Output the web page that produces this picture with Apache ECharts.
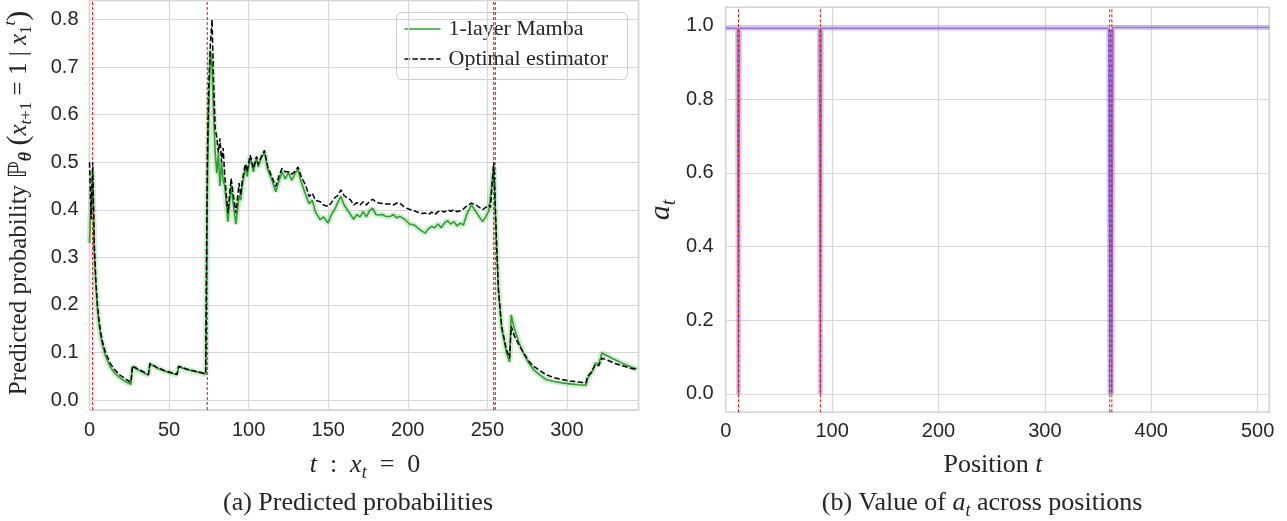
<!DOCTYPE html>
<html>
<head>
<meta charset="utf-8">
<script src="https://cdn.jsdelivr.net/npm/echarts@6/dist/echarts.min.js"></script>
<style>
html,body{margin:0;padding:0;background:#fff;}
#chart{width:1287px;height:521px;}
</style>
</head>
<body>
<div id="chart"></div>
<script>
// ---------- (a) Predicted probabilities ----------
const tIdx = [
  0, 1, 2, 3, 4, 5, 6, 7, 8, 10,
  13, 16, 19, 22, 26, 27, 30, 34, 37, 38,
  42, 47, 51, 55, 56, 61, 66, 70, 73, 74,
  75, 76, 77, 78, 79, 80, 81, 82, 83, 84,
  85, 87, 89, 90, 92, 94, 95, 96, 98, 99,
  101, 103, 105, 106, 108, 110, 112, 115, 117, 119,
  121, 123, 125, 127, 129, 131, 133, 136, 138, 140,
  142, 145, 147, 150, 152, 154, 156, 158, 160, 162,
  164, 166, 168, 170, 172, 174, 176, 178, 180, 182,
  184, 186, 189, 191, 193, 195, 198, 201, 204, 207,
  209, 211, 213, 215, 217, 219, 221, 223, 225, 227,
  229, 231, 233, 235, 237, 240, 243, 245, 247, 249,
  251, 252, 254, 256, 257, 259, 262, 264, 265, 267,
  270, 273, 276, 279, 283, 287, 292, 297, 302, 307,
  312, 313, 315, 316, 318, 320, 322, 326, 330, 335,
  340, 344
];
const optimalVals = [
  0.50, 0.38, 0.50, 0.33, 0.25, 0.20, 0.167, 0.143, 0.125, 0.100,
  0.077, 0.063, 0.053, 0.046, 0.037, 0.072, 0.066, 0.059, 0.054, 0.077,
  0.069, 0.062, 0.058, 0.054, 0.071, 0.065, 0.061, 0.058, 0.055, 0.50,
  0.667, 0.75, 0.80, 0.667, 0.57, 0.553, 0.52, 0.55, 0.50, 0.53,
  0.47, 0.393, 0.466, 0.44, 0.393, 0.456, 0.43, 0.46, 0.497, 0.48,
  0.515, 0.487, 0.512, 0.495, 0.512, 0.525, 0.49, 0.466, 0.449, 0.47,
  0.487, 0.48, 0.48, 0.475, 0.48, 0.49, 0.47, 0.45, 0.428, 0.435,
  0.42, 0.417, 0.41, 0.407, 0.415, 0.425, 0.43, 0.442, 0.43, 0.425,
  0.421, 0.41, 0.415, 0.41, 0.417, 0.41, 0.418, 0.422, 0.416, 0.414,
  0.413, 0.412, 0.412, 0.41, 0.414, 0.414, 0.405, 0.401, 0.398, 0.394,
  0.392, 0.393, 0.39, 0.395, 0.39, 0.396, 0.398, 0.395, 0.40, 0.397,
  0.40, 0.396, 0.398, 0.402, 0.408, 0.414, 0.41, 0.405, 0.40, 0.405,
  0.41, 0.405, 0.50, 0.315, 0.231, 0.155, 0.106, 0.088, 0.155, 0.135,
  0.115, 0.098, 0.082, 0.071, 0.062, 0.053, 0.047, 0.043, 0.040, 0.038,
  0.036, 0.050, 0.057, 0.060, 0.075, 0.072, 0.088, 0.083, 0.077, 0.072,
  0.067, 0.064
];
const mambaVals = [
  0.33, 0.42, 0.48, 0.31, 0.24, 0.19, 0.158, 0.135, 0.117, 0.093,
  0.070, 0.056, 0.047, 0.040, 0.033, 0.070, 0.064, 0.057, 0.052, 0.076,
  0.068, 0.061, 0.057, 0.053, 0.070, 0.064, 0.060, 0.057, 0.054, 0.42,
  0.62, 0.735, 0.70, 0.60, 0.52, 0.477, 0.52, 0.45, 0.50, 0.46,
  0.45, 0.375, 0.452, 0.42, 0.37, 0.43, 0.42, 0.45, 0.49, 0.47,
  0.51, 0.48, 0.51, 0.49, 0.51, 0.52, 0.485, 0.459, 0.438, 0.46,
  0.48, 0.465, 0.478, 0.462, 0.475, 0.485, 0.459, 0.43, 0.413, 0.42,
  0.395, 0.379, 0.385, 0.372, 0.39, 0.40, 0.415, 0.428, 0.41, 0.40,
  0.39, 0.38, 0.39, 0.385, 0.396, 0.385, 0.398, 0.403, 0.39, 0.389,
  0.39, 0.386, 0.386, 0.39, 0.383, 0.386, 0.38, 0.37, 0.368, 0.36,
  0.355, 0.351, 0.36, 0.365, 0.362, 0.37, 0.362, 0.372, 0.377, 0.37,
  0.375, 0.366, 0.372, 0.368, 0.39, 0.41, 0.395, 0.385, 0.375, 0.385,
  0.398, 0.40, 0.49, 0.31, 0.23, 0.15, 0.10, 0.08, 0.179, 0.15,
  0.12, 0.096, 0.078, 0.064, 0.053, 0.043, 0.039, 0.036, 0.034, 0.032,
  0.031, 0.045, 0.055, 0.060, 0.078, 0.075, 0.099, 0.092, 0.085, 0.077,
  0.070, 0.065
];
const changeIdxLeft = [2, 74, 254, 255];
const legendNames = ['1-layer Mamba', 'Optimal estimator'];

// ---------- (b) Value of a_t across positions ----------
const positions = [0, 11, 12, 13, 88, 89, 90, 360, 361, 362, 363, 364, 511];
const aVals = [0.993, 0.993, 0.0, 0.993, 0.993, 0.0, 0.993, 0.993, 0.0, 0.99, 0.0, 0.995, 0.995];
const changePosRight = [12, 89, 361, 363];

// ---------- axis ranges ----------
const yRangeA = [-0.021, 0.84];
const yRangeB = [-0.05, 1.05];

// ---------- build ----------
const pairs = (xs, ys) => xs.map((x, i) => [x, ys[i]]);
const mambaData = pairs(tIdx, mambaVals);
const optData = pairs(tIdx, optimalVals);
const aData = pairs(positions, aVals);
// vertical segments spanning the whole y range, separated by gaps
const vlines = (xs, range) => {
  const out = [];
  xs.forEach(x => { out.push([x, range[0]], [x, range[1]], [x, null]); });
  return out;
};

const GRID = '#d6d6d6';
const TXT = '#262626';
const SERIF = '"Liberation Serif", "DejaVu Serif", serif';
const SANS = '"Liberation Sans", Arial, sans-serif';

const fmt = (step, dec) => (v) => {
  const k = v / step;
  return Math.abs(k - Math.round(k)) < 1e-6 ? v.toFixed(dec) : '';
};

const axisCommon = {
  type: 'value',
  axisLine: {show: false},
  axisTick: {show: false},
  splitLine: {show: true, lineStyle: {color: GRID, width: 1.2}}
};

const mathRich = (size) => {
  const s = Math.round(size * 0.68);
  return {
    it: {fontFamily: SERIF, fontStyle: 'italic', fontSize: size, verticalAlign: 'middle', lineHeight: size + 8, fill: TXT},
    n: {fontFamily: SERIF, fontSize: size, verticalAlign: 'middle', lineHeight: size + 8, fill: TXT},
    sub: {fontFamily: SERIF, fontStyle: 'italic', fontSize: s, verticalAlign: 'bottom', lineHeight: s, fill: TXT},
    subn: {fontFamily: SERIF, fontSize: s, verticalAlign: 'bottom', lineHeight: s, fill: TXT},
    sup: {fontFamily: SERIF, fontStyle: 'italic', fontSize: s, verticalAlign: 'top', lineHeight: s, fill: TXT},
    bb: {fontFamily: '"DejaVu Sans", sans-serif', fontSize: size, verticalAlign: 'middle', lineHeight: size + 8, fill: TXT},
    th: {fontFamily: SERIF, fontStyle: 'italic', fontWeight: 'bold', fontSize: Math.round(size * 0.72), verticalAlign: 'bottom', lineHeight: Math.round(size * 0.72), fill: TXT},
    par: {fontFamily: SERIF, fontSize: size + 5, verticalAlign: 'middle', lineHeight: size + 8, fill: TXT}
  };
};

const redSeries = (name, xi, xs, range) => ({
  name: name, type: 'line', xAxisIndex: xi, yAxisIndex: xi,
  data: vlines(xs, range), symbol: 'none', silent: true, connectNulls: false,
  itemStyle: {color: '#ff0000'},
  lineStyle: {color: '#ff0000', width: 1, type: [3, 2]},
  z: xi === 0 ? 2 : 5
});

const option = {
  animation: false,
  backgroundColor: '#ffffff',
  textStyle: {fontFamily: SANS},
  grid: [
    {left: 89.5, top: 0.5, width: 549, height: 409.5, show: true, borderColor: '#cccccc', borderWidth: 1.5, backgroundColor: '#ffffff', containLabel: false},
    {left: 725.7, top: 7.3, width: 543.6, height: 405, show: true, borderColor: '#cccccc', borderWidth: 1.5, backgroundColor: '#ffffff', containLabel: false}
  ],
  xAxis: [
    Object.assign({}, axisCommon, {
      gridIndex: 0, min: 0, max: 345, interval: 50,
      axisLabel: {color: TXT, fontSize: 20, fontFamily: SANS, margin: 10, formatter: fmt(50, 0)}
    }),
    Object.assign({}, axisCommon, {
      gridIndex: 1, min: 0, max: 511, interval: 100,
      axisLabel: {color: TXT, fontSize: 20, fontFamily: SANS, margin: 9, formatter: fmt(100, 0)}
    })
  ],
  yAxis: [
    Object.assign({}, axisCommon, {
      gridIndex: 0, min: yRangeA[0], max: yRangeA[1], splitNumber: 8, minInterval: 0.1, maxInterval: 0.1,
      axisLabel: {color: TXT, fontSize: 20, fontFamily: SANS, margin: 11, formatter: fmt(0.1, 1)}
    }),
    Object.assign({}, axisCommon, {
      gridIndex: 1, min: yRangeB[0], max: yRangeB[1], splitNumber: 5, minInterval: 0.2, maxInterval: 0.2,
      axisLabel: {color: TXT, fontSize: 20, fontFamily: SANS, margin: 12, formatter: fmt(0.2, 1)}
    })
  ],
  series: [
    redSeries('change points (a)', 0, changeIdxLeft, yRangeA),
    {
      name: 'band', type: 'line', xAxisIndex: 0, yAxisIndex: 0,
      data: mambaData, symbol: 'none', silent: true,
      lineStyle: {color: '#2ca02c', width: 6, opacity: 0.2}, z: 1
    },
    {
      name: legendNames[0], type: 'line', xAxisIndex: 0, yAxisIndex: 0,
      data: mambaData, symbol: 'none', itemStyle: {color: '#2ca02c'},
      lineStyle: {color: '#2ca02c', width: 1.6}, z: 3
    },
    {
      name: legendNames[1], type: 'line', xAxisIndex: 0, yAxisIndex: 0,
      data: optData, symbol: 'none', itemStyle: {color: '#000000'},
      lineStyle: {color: '#000000', width: 1.5, type: [5.5, 2.4]}, z: 4
    },
    {
      name: 'a band', type: 'line', xAxisIndex: 1, yAxisIndex: 1,
      data: aData, symbol: 'none', silent: true,
      lineStyle: {color: '#9370db', width: 5, opacity: 0.35}, z: 2
    },
    {
      name: 'a_t', type: 'line', xAxisIndex: 1, yAxisIndex: 1,
      data: aData, symbol: 'none', itemStyle: {color: '#9370db'},
      lineStyle: {color: '#9370db', width: 1.6}, z: 3
    },
    redSeries('change points (b)', 1, changePosRight, yRangeB)
  ],
  graphic: [
    {
      type: 'group', left: 396, top: 12, z: 100,
      children: [
        {type: 'rect', shape: {x: 0, y: 0, width: 231, height: 67, r: 5},
         style: {fill: 'rgba(255,255,255,0.85)', stroke: '#cccccc', lineWidth: 1}},
        {type: 'line', shape: {x1: 8, y1: 16.5, x2: 44, y2: 16.5},
         style: {stroke: '#2ca02c', lineWidth: 1.6}},
        {type: 'line', shape: {x1: 8, y1: 46.5, x2: 44, y2: 46.5},
         style: {stroke: '#000000', lineWidth: 1.5, lineDash: [5.5, 2.4]}},
        {type: 'text', x: 52, y: 16.5,
         style: {text: legendNames[0], font: '22px ' + SERIF, fill: TXT, align: 'left', verticalAlign: 'middle'}},
        {type: 'text', x: 52, y: 46.5,
         style: {text: legendNames[1], font: '22px ' + SERIF, fill: TXT, align: 'left', verticalAlign: 'middle'}}
      ]
    },
    {
      type: 'text', x: 19, y: 203, rotation: Math.PI / 2,
      style: {
        text: '{n|Predicted probability }{bb|ℙ}{th|θ}{n| }{par|(}{it|x}{sub|t}{subn|+1}{n| = 1 | }{it|x}{subn|1}{sup|t}{par|)}',
        rich: mathRich(25), align: 'center', verticalAlign: 'middle'
      }
    },
    {
      type: 'text', x: 661, y: 210, rotation: Math.PI / 2,
      style: {text: '{it|a}{sub|t}', rich: mathRich(30), align: 'center', verticalAlign: 'middle'}
    },
    {
      type: 'text', x: 365, y: 465,
      style: {text: '{it|t}{n|\u2002:\u2002}{it|x}{sub|t}{n|\u2002=\u20020}', rich: mathRich(26), align: 'center', verticalAlign: 'middle'}
    },
    {
      type: 'text', x: 993, y: 465,
      style: {text: '{n|Position }{it|t}', rich: mathRich(26), align: 'center', verticalAlign: 'middle'}
    },
    {
      type: 'text', x: 358, y: 503,
      style: {text: '{n|(a) Predicted probabilities}', rich: mathRich(26), align: 'center', verticalAlign: 'middle'}
    },
    {
      type: 'text', x: 982, y: 503,
      style: {text: '{n|(b) Value of }{it|a}{sub|t}{n| across positions}', rich: mathRich(26), align: 'center', verticalAlign: 'middle'}
    }
  ]
};

const chart = echarts.init(document.getElementById('chart'), null, {renderer: 'canvas'});
chart.setOption(option);
</script>
</body>
</html>
